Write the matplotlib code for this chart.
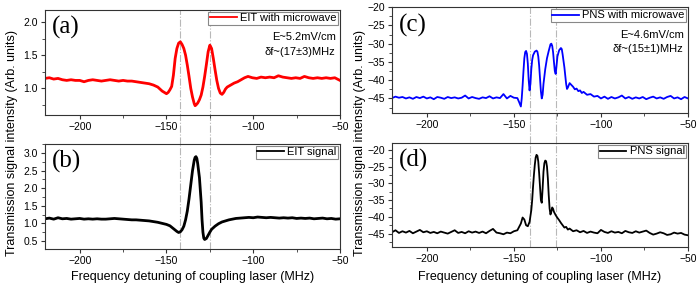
import numpy as np
import matplotlib.pyplot as plt
from matplotlib.ticker import MultipleLocator

plt.rcParams['font.family'] = ['Liberation Sans', 'DejaVu Sans']

# (a) EIT with microwave
freq_a = [-220, -217.5, -215, -212.5, -210, -207.5, -205, -202.5, -200, -197.5, -195, -192.5,
          -190, -187.5, -185, -182.5, -180, -177.5, -175, -172.5, -170, -167.5, -165, -162.5,
          -160, -157.5, -155, -152.5, -150, -149, -148, -147, -146, -145, -144, -143, -142,
          -141, -140, -139, -138, -137, -136, -135, -134, -133.5, -133, -132, -131, -130, -129,
          -128, -127, -126, -125, -124, -123, -122, -121, -120, -119, -118, -117, -116, -115,
          -113, -111, -109, -107, -105, -103, -100.5, -98, -95.5, -93, -90.5, -88, -85.5, -83,
          -80.5, -78, -75.5, -73, -70.5, -68, -65.5, -63, -60.5, -58, -55.5, -53, -50]
sig_a = [1.15, 1.16, 1.14, 1.15, 1.13, 1.12, 1.13, 1.12, 1.12, 1.10, 1.12, 1.13,
         1.12, 1.11, 1.12, 1.13, 1.12, 1.11, 1.12, 1.11, 1.11, 1.10, 1.09, 1.08,
         1.07, 1.05, 1.02, 0.96, 0.92, 0.94, 0.98, 1.03, 1.20, 1.45, 1.60, 1.68, 1.70,
         1.66, 1.60, 1.50, 1.35, 1.18, 1.00, 0.87, 0.77, 0.74, 0.75, 0.78, 0.83, 0.90, 1.02,
         1.18, 1.36, 1.55, 1.65, 1.60, 1.45, 1.28, 1.12, 1.00, 0.93, 0.91, 0.94, 0.99, 1.02,
         1.05, 1.08, 1.10, 1.13, 1.16, 1.18, 1.16, 1.15, 1.17, 1.16, 1.17, 1.16, 1.19, 1.17,
         1.16, 1.15, 1.16, 1.15, 1.18, 1.16, 1.15, 1.16, 1.15, 1.16, 1.15, 1.16, 1.12]

# (b) EIT signal
freq_b = [-220, -217.5, -215, -212.5, -210, -207.5, -205, -202.5, -200, -197.5, -195, -192.5,
          -190, -187.5, -185, -182.5, -180, -177.5, -175, -172.5, -170, -167.5, -165, -162.5,
          -160, -157.5, -155, -152.5, -150, -148, -146, -144, -143, -142, -141, -140, -139,
          -138, -137, -136, -135, -134, -133.5, -133, -132.5, -132, -131, -130, -129.5, -129,
          -128.5, -128, -127, -126, -125, -124, -122, -120, -118, -116, -114, -112, -110,
          -107.5, -105, -102.5, -100, -97.5, -95, -92.5, -90, -87.5, -85, -82.5, -80, -77.5,
          -75, -72.5, -70, -67.5, -65, -62.5, -60, -57.5, -55, -52.5, -50]
sig_b = [1.13, 1.15, 1.12, 1.16, 1.13, 1.14, 1.12, 1.13, 1.14, 1.12, 1.13, 1.12,
         1.13, 1.12, 1.12, 1.13, 1.14, 1.13, 1.12, 1.11, 1.10, 1.10, 1.09, 1.08,
         1.07, 1.05, 1.03, 1.00, 0.97, 0.93, 0.85, 0.77, 0.74, 0.76, 0.82, 0.92, 1.10,
         1.35, 1.70, 2.10, 2.50, 2.80, 2.88, 2.90, 2.85, 2.70, 2.30, 1.60, 1.10, 0.75,
         0.58, 0.54, 0.57, 0.66, 0.75, 0.83, 0.92, 0.99, 1.04, 1.07, 1.10, 1.12, 1.14,
         1.15, 1.16, 1.17, 1.16, 1.18, 1.17, 1.16, 1.17, 1.16, 1.15, 1.16, 1.15, 1.16,
         1.14, 1.15, 1.14, 1.15, 1.13, 1.14, 1.15, 1.13, 1.14, 1.12, 1.13]

# (c) PNS with microwave
freq_c = [-220, -218, -216, -214, -212, -210, -208, -206, -204, -202, -200, -198, -196, -194,
          -192, -190, -188, -186, -184, -182, -180, -178, -176, -174, -172, -170, -168, -166,
          -164, -162, -160, -158, -156, -154, -152, -150, -148, -147, -146, -145.5, -145,
          -144.5, -144, -143.5, -143, -142.5, -142, -141.5, -141, -140.5, -140, -139.5, -139,
          -138, -137, -136.5, -136, -135.5, -135, -134.5, -134, -133.5, -133, -132, -131, -130,
          -129, -128.5, -128, -127.5, -127, -126.5, -126, -125.5, -125, -124, -123, -122.5,
          -122, -121, -120, -119.5, -119, -118, -117, -116, -115, -114, -113, -112, -111, -110,
          -108, -106, -104, -102, -100, -98, -96, -94, -92, -90, -88, -86, -84, -82, -80, -78,
          -76, -74, -72, -70, -68, -66, -64, -62, -60, -58, -56, -54, -52, -50]
sig_c = [-44.9, -44.5, -44.8, -44.6, -45.0, -44.7, -45.1, -44.6, -44.9, -44.5, -45.0, -44.7, -45.2, -44.6,
         -44.8, -45.1, -44.6, -44.9, -44.7, -45.0, -44.8, -44.2, -45.0, -44.6, -44.9, -45.1, -44.7, -44.9,
         -44.4, -45.0, -44.7, -44.9, -43.8, -45.0, -44.3, -44.8, -44.9, -46.0, -47.2, -45.0, -41.5,
         -37.5, -34.0, -32.3, -32.0, -32.8, -35.5, -40.0, -42.8, -41.0, -37.0, -34.5, -33.2,
         -32.2, -31.9, -32.2, -33.5, -36.0, -39.5, -43.0, -45.0, -44.0, -41.0, -37.0, -34.0, -32.0,
         -30.2, -30.0, -30.6, -32.3, -35.0, -37.5, -38.3, -36.0, -33.5, -31.8, -31.2, -31.5,
         -33.0, -36.5, -41.0, -42.4, -42.0, -40.8, -41.3, -41.8, -42.5, -42.3, -43.0, -42.8, -43.5, -43.2,
         -44.0, -43.8, -44.5, -44.3, -45.0, -44.5, -45.1, -44.6, -45.0, -44.7, -44.2, -45.0, -44.6, -45.1, -44.7, -45.0,
         -44.6, -45.2, -44.8, -44.5, -45.0, -44.7, -45.1, -44.6, -44.3, -45.0, -44.7, -45.2, -44.6, -45.0]

# (d) PNS signal
freq_d = [-220, -218, -216, -214, -212, -210, -208, -206, -204, -202, -200, -198, -196, -194,
          -192, -190, -188, -186, -184, -182, -180, -178, -176, -174, -172, -170, -168, -166,
          -164, -162, -160, -158, -156, -154, -152, -150, -148, -146, -145, -144, -143, -142,
          -141, -140, -139.5, -139, -138.5, -138, -137.5, -137, -136.5, -136, -135.5, -135,
          -134.5, -134, -133.5, -133, -132.5, -132, -131.5, -131, -130.5, -130, -129.5, -129,
          -128.5, -128, -127.5, -127, -126, -125, -124, -123, -122, -121, -120, -119, -118,
          -116, -114, -112, -110, -108, -106, -104, -102, -100, -98, -96, -94, -92, -90, -88,
          -86, -84, -82, -80, -78, -76, -74, -72, -70, -68, -66, -64, -62, -60, -58, -56, -54,
          -52, -50]
sig_d = [-44.6, -44.0, -44.8, -44.3, -44.7, -44.2, -44.9, -44.4, -43.9, -44.6, -44.3, -44.8, -44.5, -44.9,
         -44.4, -44.7, -45.0, -44.5, -44.0, -44.8, -44.5, -44.9, -44.3, -44.7, -44.4, -44.8, -44.4, -44.9,
         -44.2, -43.6, -44.7, -44.9, -45.2, -44.7, -44.9, -44.3, -44.0, -42.0, -40.2, -40.8, -42.5, -42.8,
         -41.5, -38.0, -35.0, -31.0, -27.5, -24.5, -22.3, -21.5, -21.8, -23.5, -27.0, -31.0,
         -35.0, -35.8, -31.5, -26.5, -24.0, -23.2, -23.4, -25.0, -28.5, -33.5, -37.5, -39.3,
         -38.5, -37.2, -37.6, -38.5, -39.5, -40.3, -41.0, -41.8, -42.5, -43.2, -43.0, -43.8, -43.5,
         -44.3, -44.0, -44.6, -44.2, -44.8, -44.4, -44.7, -44.9, -43.9, -44.5, -44.8, -44.3, -44.7, -44.5, -44.9,
         -44.2, -44.6, -44.8, -44.3, -44.7, -44.4, -44.1, -44.8, -45.3, -45.0, -44.6, -44.9, -45.4, -45.2, -44.7, -45.0, -44.8,
         -45.3, -45.5]

lines_left = [-142, -125]
lines_right = [-141, -126]

fig = plt.figure(figsize=(6.99, 2.96), dpi=100)
ax_a = fig.add_axes([0.0644, 0.6115, 0.422, 0.355])
ax_b = fig.add_axes([0.0644, 0.1588, 0.422, 0.3547])
ax_c = fig.add_axes([0.5608, 0.618, 0.4235, 0.358])
ax_d = fig.add_axes([0.5608, 0.1655, 0.4235, 0.351])

panels = [
    (ax_a, freq_a, sig_a, 'red', 'EIT with microwave', '(a)', (0.6, 2.18), 0.5, lines_left),
    (ax_b, freq_b, sig_b, 'black', 'EIT signal', '(b)', (0.27, 3.26), 0.5, lines_left),
    (ax_c, freq_c, sig_c, 'blue', 'PNS with microwave', '(c)', (-49, -20), 5, lines_right),
    (ax_d, freq_d, sig_d, 'black', 'PNS signal', '(d)', (-49, -18), 5, lines_right),
]

for ax, f, s, col, lab, tag, yl, ystep, vl in panels:
    lw = 2.0 if ax in (ax_a, ax_b) else 1.3
    ax.plot(f, s, color=col, lw=lw, label=lab)
    ax.set_xlim(-220, -50)
    ax.set_ylim(*yl)
    ax.xaxis.set_major_locator(MultipleLocator(50))
    ax.xaxis.set_minor_locator(MultipleLocator(25))
    ax.yaxis.set_major_locator(MultipleLocator(ystep))
    ax.yaxis.set_minor_locator(MultipleLocator(ystep / 2))
    ax.tick_params(which='both', direction='out', labelsize=7.5, color='#333333', pad=2)
    ax.tick_params(which='major', length=3)
    ax.tick_params(which='minor', length=2)
    for sp in ax.spines.values():
        sp.set_linewidth(0.8)
        sp.set_color('#333333')
    top = ax in (ax_a, ax_c)
    for x in vl:
        ax.axvline(x, ymin=-0.28 if top else 0, ymax=1, color='#b8b8b8', lw=0.8,
                   ls='-.', clip_on=False, zorder=0)
    leg = ax.legend(loc='upper right', fontsize=8, frameon=True, fancybox=False,
                    borderaxespad=0.15, borderpad=0.15, handlelength=2.4,
                    handletextpad=0.3, edgecolor='#888888', framealpha=1)
    leg.get_frame().set_linewidth(0.8)
    leg.get_lines()[0].set_linewidth(1.3)
    ax.text(0.022, 0.83, tag, transform=ax.transAxes, fontsize=18,
            family='Liberation Serif', va='center', ha='left')

ax_a.text(0.985, 0.74, 'E~5.2mV/cm', transform=ax_a.transAxes, fontsize=8, ha='right', va='center')
ax_a.text(0.985, 0.60, 'δf~(17±3)MHz', transform=ax_a.transAxes, fontsize=8, ha='right', va='center')
ax_c.text(0.985, 0.74, 'E~4.6mV/cm', transform=ax_c.transAxes, fontsize=8, ha='right', va='center')
ax_c.text(0.985, 0.60, 'δf~(15±1)MHz', transform=ax_c.transAxes, fontsize=8, ha='right', va='center')

fig.text(12 / 699, 1 - 143 / 296, 'Transmission signal intensity (Arb. units)', rotation=90,
         ha='center', va='center', fontsize=9)
fig.text(360 / 699, 1 - 143 / 296, 'Transmission signal intensity (Arb. units)', rotation=90,
         ha='center', va='center', fontsize=9)
fig.text(193 / 699, 1 - 277 / 296, 'Frequency detuning of coupling laser (MHz)',
         ha='center', va='center', fontsize=9)
fig.text(540 / 699, 1 - 277 / 296, 'Frequency detuning of coupling laser (MHz)',
         ha='center', va='center', fontsize=9)

fig.savefig('out.png', dpi=100)
